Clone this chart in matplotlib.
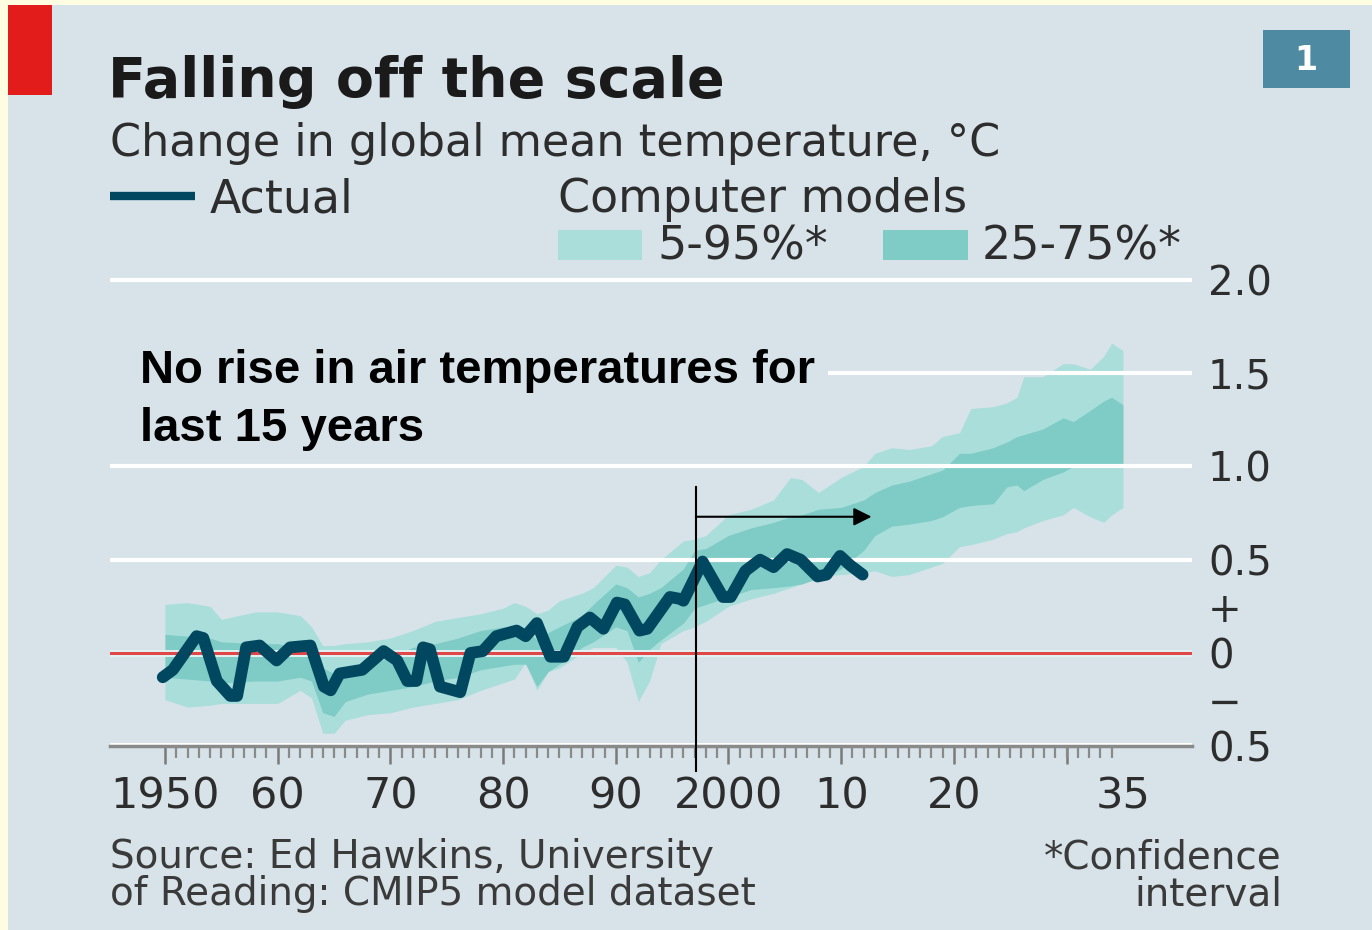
import numpy as np
import matplotlib
matplotlib.use("Agg")
import matplotlib.pyplot as plt
from matplotlib.patches import Rectangle

W, H = 1372, 930

actual_years = [1949.8, 1950.7, 1952.8, 1953.4, 1954.6, 1955.8, 1956.4, 1957.2,
                1958.4, 1959.9, 1961.1, 1962.9, 1964.1, 1964.7, 1965.5, 1967.5,
                1969.4, 1970.6, 1971.5, 1972.3, 1972.9, 1973.5, 1974.4, 1976.2,
                1977.1, 1978.2, 1979.4, 1981.2, 1982.0, 1983.0, 1984.2, 1985.4,
                1986.6, 1987.7, 1988.9, 1990.1, 1990.8, 1992.1, 1992.8, 1994.8,
                1995.7, 1996.0, 1996.9, 1997.7, 1999.5, 2000.2, 2001.5, 2002.8,
                2004.0, 2005.2, 2006.4, 2007.9, 2008.7, 2009.9, 2010.8, 2011.9]
actual_vals = [-0.13, -0.09, 0.09, 0.08, -0.15, -0.23, -0.23, 0.03,
               0.04, -0.04, 0.03, 0.04, -0.18, -0.20, -0.11, -0.09,
               0.01, -0.04, -0.15, -0.15, 0.03, 0.02, -0.18, -0.21,
               0.00, 0.01, 0.09, 0.12, 0.09, 0.16, -0.02, -0.02,
               0.14, 0.19, 0.13, 0.27, 0.26, 0.12, 0.13, 0.30,
               0.29, 0.28, 0.39, 0.49, 0.30, 0.30, 0.44, 0.50,
               0.46, 0.53, 0.50, 0.41, 0.42, 0.52, 0.47, 0.42]

# computer models (CMIP5) percentiles
band_years = [1950, 1952, 1954, 1955, 1958, 1960, 1962, 1963, 1964, 1965,
              1966, 1968, 1970, 1972, 1974, 1976, 1978, 1980, 1981, 1982,
              1983, 1984, 1985, 1987, 1988, 1990, 1991, 1992, 1993, 1994,
              1996, 1997, 1998, 2000, 2002, 2004, 2005.5, 2006.5, 2008, 2010,
              2012, 2013, 2014.5, 2016, 2018, 2019, 2020.5, 2021.5, 2023.5, 2024.7,
              2025.6, 2026.2, 2027.9, 2029.7, 2030.6, 2032.1, 2033.3, 2034, 2035]
p95 = [0.26, 0.27, 0.25, 0.18, 0.22, 0.22, 0.20, 0.14, 0.04, 0.04,
       0.05, 0.06, 0.08, 0.12, 0.17, 0.19, 0.21, 0.24, 0.27, 0.25,
       0.21, 0.23, 0.28, 0.32, 0.35, 0.47, 0.46, 0.41, 0.43, 0.50,
       0.60, 0.61, 0.63, 0.74, 0.77, 0.82, 0.94, 0.93, 0.86, 0.94,
       1.00, 1.07, 1.10, 1.09, 1.11, 1.16, 1.18, 1.31, 1.32, 1.34,
       1.37, 1.48, 1.48, 1.55, 1.55, 1.52, 1.59, 1.66, 1.62]
p75 = [0.10, 0.09, 0.08, 0.06, 0.05, 0.05, 0.02, -0.01, -0.08, -0.11,
       -0.10, -0.07, -0.02, 0.03, 0.05, 0.08, 0.12, 0.14, 0.14, 0.13,
       0.07, 0.11, 0.14, 0.20, 0.26, 0.37, 0.35, 0.30, 0.32, 0.35,
       0.45, 0.55, 0.56, 0.63, 0.67, 0.70, 0.73, 0.74, 0.77, 0.78,
       0.82, 0.86, 0.90, 0.92, 0.96, 0.98, 1.07, 1.07, 1.10, 1.13,
       1.16, 1.17, 1.20, 1.26, 1.24, 1.30, 1.35, 1.37, 1.33]
p25 = [-0.13, -0.14, -0.15, -0.16, -0.15, -0.15, -0.13, -0.15, -0.32, -0.34,
       -0.26, -0.22, -0.20, -0.18, -0.15, -0.13, -0.09, -0.07, -0.06, -0.06,
       -0.18, -0.10, -0.06, 0.03, 0.06, 0.14, 0.12, -0.05, 0.02, 0.07,
       0.16, 0.24, 0.26, 0.30, 0.34, 0.35, 0.36, 0.37, 0.40, 0.45,
       0.55, 0.63, 0.68, 0.69, 0.71, 0.73, 0.78, 0.79, 0.80, 0.89,
       0.90, 0.87, 0.93, 0.97, 1.00, 1.00, 1.00, 1.00, 1.00]
p5 = [-0.25, -0.29, -0.28, -0.27, -0.27, -0.27, -0.20, -0.24, -0.43, -0.43,
      -0.36, -0.33, -0.32, -0.29, -0.27, -0.25, -0.20, -0.16, -0.14, -0.05,
      -0.20, -0.10, -0.08, 0.00, 0.03, 0.03, -0.05, -0.26, -0.15, 0.05,
      0.12, 0.14, 0.17, 0.25, 0.29, 0.32, 0.35, 0.37, 0.41, 0.42,
      0.43, 0.44, 0.41, 0.42, 0.46, 0.48, 0.57, 0.58, 0.61, 0.64,
      0.65, 0.67, 0.71, 0.74, 0.78, 0.73, 0.70, 0.74, 0.78]

grid_vals = [2.0, 1.5, 1.0, 0.5]
y_ticks = [2.0, 1.5, 1.0, 0.5, 0.25, 0.0, -0.25, -0.5]
y_labels = ["2.0", "1.5", "1.0", "0.5", "+", "0", "\u2212", "0.5"]
x_label_years = [1950, 1960, 1970, 1980, 1990, 2000, 2010, 2020, 2035]
x_labels = ["1950", "60", "70", "80", "90", "2000", "10", "20", "35"]
decade_ticks = [1950, 1960, 1970, 1980, 1990, 2000, 2010, 2020, 2030]
year_ticks = np.arange(1950, 2036)

# "pause" marker
pause_start, pause_end = 1997.1, 2012.7
pause_arrow_y = 0.73
pause_line_y = (-0.63, 0.89)

BG = "#d7e3e9"
LIGHT = "#a9dedb"
DARK = "#7fcbc6"
LINE = "#00475f"
RED = "#e04848"
TXT = "#2d2d2d"

fig = plt.figure(figsize=(W / 100, H / 100), dpi=100)
fig.patch.set_facecolor("#fffde1")

# decoration layer in pixel coords (behind the chart)
deco = fig.add_axes([0, 0, 1, 1], zorder=0)
deco.set_xlim(0, W)
deco.set_ylim(H, 0)
deco.axis("off")
deco.add_patch(Rectangle((8, 5), W - 8, H - 5, color=BG, lw=0))
deco.add_patch(Rectangle((8, 5), 44, 90, color="#e21c1a", lw=0))
deco.add_patch(Rectangle((1263, 30), 87, 58, color="#4e8aa1", lw=0))
deco.text(1306, 60, "1", color="white", fontsize=24, weight="bold",
          ha="center", va="center")

deco.text(108, 97, "Falling off the scale", fontsize=40, weight="bold",
          color="#1a1a1a", va="baseline")
deco.text(110, 156, "Change in global mean temperature, \u00b0C", fontsize=32,
          color=TXT, va="baseline")

# legend
deco.plot([110, 195], [196, 196], color=LINE, lw=6, solid_capstyle="butt")
deco.text(210, 212, "Actual", fontsize=33, color=TXT, va="baseline")
deco.text(558, 212, "Computer models", fontsize=33, color=TXT, va="baseline")
deco.add_patch(Rectangle((558, 230), 84, 30, color=LIGHT, lw=0))
deco.text(657, 259, "5-95%*", fontsize=33, color=TXT, va="baseline")
deco.add_patch(Rectangle((883, 230), 85, 30, color=DARK, lw=0))
deco.text(982, 259, "25-75%*", fontsize=33, color=TXT, va="baseline")

# footer
deco.text(110, 868, "Source: Ed Hawkins, University", fontsize=28, color="#3a3a3a",
          va="baseline")
deco.text(110, 905, "of Reading: CMIP5 model dataset", fontsize=28, color="#3a3a3a",
          va="baseline")
deco.text(1282, 868, "*Confidence", fontsize=28, color="#3a3a3a", va="baseline",
          ha="right")
deco.text(1282, 905, "interval", fontsize=28, color="#3a3a3a", va="baseline",
          ha="right")

# main chart
ax = fig.add_axes([110 / W, 1 - 746.3 / H, 1082 / W, (746.3 - 276) / H], zorder=1)
ax.patch.set_alpha(0)
ax.set_xlim(1945.12, 2041.13)
ax.set_ylim(-0.5, 2.02)
for s in ax.spines.values():
    s.set_visible(False)

ax.fill_between(band_years, p5, p95, color=LIGHT, lw=0, zorder=1)
ax.fill_between(band_years, p25, p75, color=DARK, lw=0, zorder=2)
for g in grid_vals:
    ax.axhline(g, color="white", lw=3, zorder=3)
ax.axhline(0, color="#e3f3f3", lw=5, zorder=3)
ax.axhline(0, color=RED, lw=2.2, zorder=4)
ax.axhline(-0.485, color="white", lw=1.5, zorder=3)
ax.axhline(-0.5, color="#8a8a8a", lw=2.5, zorder=3, clip_on=False)

ax.plot(actual_years, actual_vals, color=LINE, lw=8.5, zorder=5,
        solid_joinstyle="round", solid_capstyle="round")

ax.plot([pause_start, pause_start], pause_line_y, color="black", lw=1.5,
        zorder=6, clip_on=False)
ax.annotate("", xy=(pause_end, pause_arrow_y), xytext=(pause_start, pause_arrow_y),
            arrowprops=dict(arrowstyle="-|>", color="black", lw=1.5,
                            mutation_scale=27, shrinkA=0, shrinkB=0),
            zorder=6)

# x axis: labels, yearly ticks, decade ticks
ax.set_xticks(x_label_years, labels=x_labels)
ax.set_xticks(year_ticks, minor=True)
ax.tick_params(axis="x", which="major", length=0, pad=21, labelsize=31,
               labelcolor=TXT)
ax.tick_params(axis="x", which="minor", length=8.5, width=1.6, color="#8a8a8a")
sec = ax.secondary_xaxis("bottom")
sec.set_xticks(decade_ticks, labels=[""] * len(decade_ticks))
sec.tick_params(length=13, width=1.8, color="#7a7a7a")
for s in sec.spines.values():
    s.set_visible(False)

# y axis on right
ax.yaxis.tick_right()
ax.set_yticks(y_ticks, labels=y_labels)
ax.tick_params(axis="y", length=0, pad=11.5, labelsize=29, labelcolor=TXT)

# annotation pasted on top with an opaque box
top = fig.add_axes([0, 0, 1, 1], zorder=2)
top.set_xlim(0, W)
top.set_ylim(H, 0)
top.axis("off")
top.add_patch(Rectangle((108, 338), 720, 118, color=BG, lw=0))
top.text(140, 383, "No rise in air temperatures for", fontsize=34, weight="bold",
         family="Liberation Sans", color="black", va="baseline")
top.text(140, 441, "last 15 years", fontsize=34, weight="bold",
         family="Liberation Sans", color="black", va="baseline")

fig.savefig("out.png", dpi=100, facecolor=fig.get_facecolor())
